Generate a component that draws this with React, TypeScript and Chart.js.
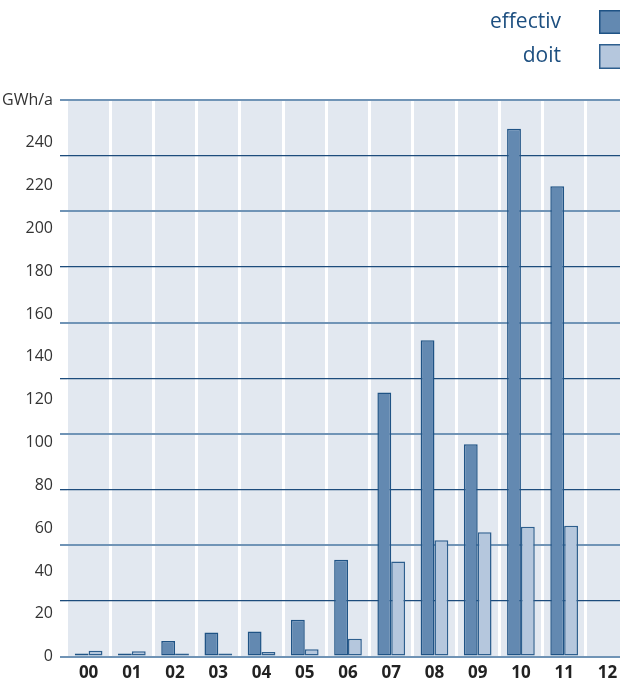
import React, { useEffect, useRef } from 'react';
import { Chart, registerables } from 'chart.js';

Chart.register(...registerables);

const years = ['00', '01', '02', '03', '04', '05', '06', '07', '08', '09', '10', '11', '12'];
const effectiv = [1.4, 1.5, 7.3, 11.2, 11.7, 17.2, 45.2, 123.4, 147.8, 99.2, 246.6, 219.7, null];
const doit = [2.7, 2.5, 1.4, 1.5, 2.2, 3.4, 8.3, 44.4, 54.3, 58.1, 60.7, 61.1, null];
const seriesNames = ['effectiv', 'doit'];
const unitLabel = 'GWh/a';
const yMax = 260;
const labelStep = 20;
const gridStep = 26;

const fillColors = ['#6389b1', '#b5c7dd'];
const borderColors = ['#1f5385', '#2e5f8e'];

const bgPlugin = {
  id: 'plotBg',
  beforeDraw(chart: any) {
    const { ctx, chartArea } = chart;
    ctx.save();
    ctx.fillStyle = '#e2e8f0';
    ctx.fillRect(chartArea.left, chartArea.top, chartArea.right - chartArea.left, chartArea.bottom - chartArea.top);
    ctx.restore();
  },
};

const legendPlugin = {
  id: 'sideLegend',
  afterDraw(chart: any) {
    const { ctx } = chart;
    const rows = [
      { y: 10, h: 24 },
      { y: 44, h: 25 },
    ];
    ctx.save();
    chart.data.datasets.forEach((ds: any, i: number) => {
      const r = rows[i];
      ctx.fillStyle = ds.backgroundColor;
      ctx.fillRect(599, r.y, 22, r.h);
      ctx.strokeStyle = ds.borderColor;
      ctx.lineWidth = 1.5;
      ctx.strokeRect(599.75, r.y + 0.75, 22, r.h - 1.5);
      ctx.fillStyle = '#1d4f80';
      ctx.font = '21px "Open Sans"';
      ctx.textAlign = 'right';
      ctx.textBaseline = 'middle';
      ctx.fillText(ds.label, 561, r.y + r.h / 2);
    });
    ctx.restore();
  },
};

export default function App() {
  const ref = useRef<HTMLCanvasElement>(null);
  useEffect(() => {
    if (!ref.current) return;
    Chart.defaults.font.family = '"Open Sans"';
    const gridIndex = (v: number) => {
      const r = Math.round(v);
      if (r % gridStep !== 0) return -1;
      return r / gridStep;
    };
    const chart = new Chart(ref.current, {
      type: 'bar',
      data: {
        labels: years,
        datasets: [
          {
            label: seriesNames[0],
            data: effectiv,
            backgroundColor: fillColors[0],
            borderColor: borderColors[0],
            borderWidth: 1.5,
            borderSkipped: false,
            barPercentage: 1,
            categoryPercentage: 0.64,
          },
          {
            label: seriesNames[1],
            data: doit,
            backgroundColor: fillColors[1],
            borderColor: borderColors[1],
            borderWidth: 1.5,
            borderSkipped: false,
            barPercentage: 1,
            categoryPercentage: 0.64,
          },
        ],
      },
      options: {
        animation: false,
        responsive: true,
        maintainAspectRatio: false,
        layout: { padding: { top: 100, right: 11, bottom: 0, left: 0 } },
        plugins: {
          legend: { display: false },
          tooltip: { enabled: false },
        },
        scales: {
          x: {
            z: 0,
            border: { display: false },
            grid: {
              offset: true,
              color: '#ffffff',
              lineWidth: 3,
              drawTicks: false,
            },
            ticks: {
              color: '#222222',
              font: { size: 17, weight: 'bold' },
              padding: 6,
              autoSkip: false,
              maxRotation: 0,
            },
          },
          y: {
            z: 1,
            min: 0,
            max: yMax,
            border: { display: false },
            afterFit(scale: any) {
              scale.width = 67;
            },
            grid: {
              tickLength: 7,
              color: (ctx: any) => {
                const g = gridIndex(ctx.tick ? ctx.tick.value : -1);
                if (g < 0) return 'rgba(0,0,0,0)';
                return g % 2 === 0 ? '#7094b6' : '#1d4c7c';
              },
              lineWidth: (ctx: any) => {
                const g = gridIndex(ctx.tick ? ctx.tick.value : -1);
                if (g < 0) return 0;
                return g % 2 === 0 ? 2 : 1.3;
              },
            },
            ticks: {
              stepSize: 2,
              autoSkip: false,
              padding: 7,
              color: '#333333',
              font: { size: 16 },
              callback: (value: any) => {
                const v = Math.round(Number(value));
                if (v === yMax) return unitLabel;
                if (v % labelStep === 0) return String(v);
                return '';
              },
            },
          },
        },
      },
      plugins: [bgPlugin, legendPlugin],
    });
    return () => chart.destroy();
  }, []);

  return (
    <div style={{ position: 'fixed', left: 0, top: 0, width: 620, height: 681, overflow: 'hidden', background: '#ffffff' }}>
      <div style={{ position: 'absolute', left: 0, top: 0, width: 640, height: 689 }}>
        <canvas ref={ref} />
      </div>
    </div>
  );
}
